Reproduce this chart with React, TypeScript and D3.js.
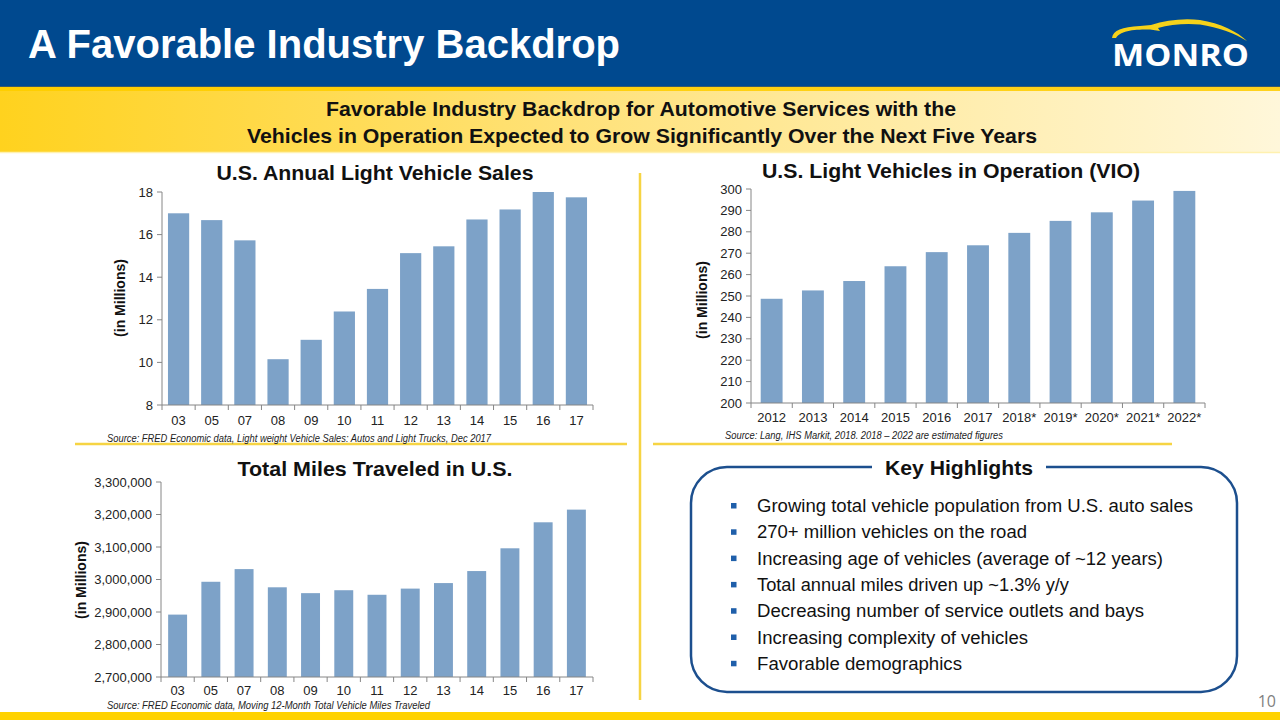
import React from "react";
import * as d3 from "d3";

const SALES_YEARS = ["03", "05", "07", "08", "09", "10", "11", "12", "13", "14", "15", "16", "17"];
const SALES_VALUES = [17.0, 16.68, 15.73, 10.15, 11.06, 12.39, 13.45, 15.13, 15.45, 16.71, 17.18, 18.0, 17.75];
const SALES_TICKS = [8, 10, 12, 14, 16, 18];

const VIO_YEARS = ["2012", "2013", "2014", "2015", "2016", "2017", "2018*", "2019*", "2020*", "2021*", "2022*"];
const VIO_VALUES = [248.7, 252.6, 257.0, 263.9, 270.5, 273.7, 279.5, 285.1, 289.1, 294.6, 299.1];
const VIO_TICKS = [200, 210, 220, 230, 240, 250, 260, 270, 280, 290, 300];

const MILES_YEARS = ["03", "05", "07", "08", "09", "10", "11", "12", "13", "14", "15", "16", "17"];
const MILES_VALUES = [2892000, 2993000, 3032000, 2976000, 2958000, 2967000, 2953000, 2972000, 2989000, 3026000, 3096000, 3176000, 3215000];
const MILES_TICKS = [2700000, 2800000, 2900000, 3000000, 3100000, 3200000, 3300000];

const HIGHLIGHTS = [
  "Growing total vehicle population from U.S. auto sales",
  "270+ million vehicles on the road",
  "Increasing age of vehicles (average of ~12 years)",
  "Total annual miles driven up ~1.3% y/y",
  "Decreasing number of service outlets and bays",
  "Increasing complexity of vehicles",
  "Favorable demographics",
];
const HIGHLIGHT_WIDTHS = [436, 270, 406, 312, 387, 271, 205];

const FONT = "'Liberation Sans', Arial, Helvetica, sans-serif";
const BAR = "#7DA2C8";
const AXIS = "#868686";
const YELLOW_LINE = "#F6D443";

type ChartProps = {
  categories: string[];
  values: number[];
  ticks: number[];
  domain: [number, number];
  xRange: [number, number];
  yRange: [number, number];
  padding: number;
  fmt: (v: number) => string;
  xLabelY: number;
};

function BarChart(p: ChartProps) {
  const x = d3.scaleBand<string>().domain(p.categories).range(p.xRange).paddingInner(p.padding).paddingOuter(p.padding / 2);
  const y = d3.scaleLinear().domain(p.domain).range(p.yRange);
  const step = x.step();
  const [x0, x1] = p.xRange;
  const yb = p.yRange[0];
  return (
    <g fontFamily={FONT}>
      {p.categories.map((c, i) => (
        <rect key={c} x={x(c)} y={y(p.values[i])} width={x.bandwidth()} height={yb - y(p.values[i])} fill={BAR} />
      ))}
      <line x1={x0} x2={x0} y1={p.yRange[1]} y2={yb} stroke={AXIS} />
      <line x1={x0} x2={x1} y1={yb} y2={yb} stroke={AXIS} />
      {p.ticks.map((t) => (
        <g key={t}>
          <line x1={x0 - 5} x2={x0} y1={y(t)} y2={y(t)} stroke={AXIS} />
          <text x={x0 - 9} y={y(t)} dy="0.35em" textAnchor="end" fontSize={13} fill="#222">
            {p.fmt(t)}
          </text>
        </g>
      ))}
      {d3.range(p.categories.length + 1).map((i) => (
        <line key={i} x1={x0 + i * step} x2={x0 + i * step} y1={yb} y2={yb + 5} stroke={AXIS} />
      ))}
      {p.categories.map((c) => (
        <text key={c} x={(x(c) as number) + x.bandwidth() / 2} y={p.xLabelY} textAnchor="middle" fontSize={13} fill="#222">
          {c}
        </text>
      ))}
    </g>
  );
}

export default function App() {
  const commaFmt = d3.format(",");
  return (
    <svg width={1280} height={720} style={{ position: "absolute", left: 0, top: 0 }} fontFamily={FONT}>
      <defs>
        <linearGradient id="banner" x1="0" x2="1" y1="0" y2="0">
          <stop offset="0" stopColor="#FFD21E" />
          <stop offset="0.45" stopColor="#FFE27A" />
          <stop offset="1" stopColor="#FFF7DA" />
        </linearGradient>
        <linearGradient id="bannerTop" x1="0" x2="1" y1="0" y2="0">
          <stop offset="0" stopColor="#FFCE00" />
          <stop offset="1" stopColor="#FFD21E" />
        </linearGradient>
      </defs>
      <rect x={0} y={0} width={1280} height={720} fill="#ffffff" />
      {/* header */}
      <rect x={0} y={0} width={1280} height={86} fill="#00498F" />
      <text x={28} y={58} fill="#ffffff" fontWeight="bold" fontSize={41} textLength={592} lengthAdjust="spacingAndGlyphs">
        A Favorable Industry Backdrop
      </text>
      {/* logo */}
      <path
        d="M1112,38 C1113,30 1122,27 1140,26 L1151,25 C1166,20 1184,18 1200,20 C1220,23 1238,32 1247,41 C1236,34 1218,27 1200,24.5 C1186,23 1170,24.5 1158,28 L1160,31 L1150,29.5 C1136,29.5 1121,30 1116,38 Z"
        fill="#F5D21A"
      />
      <text x={1112} y={66} fill="#ffffff" fontWeight="bold" fontSize={31} fontFamily="'Open Sans', Lato, sans-serif" textLength={137} lengthAdjust="spacingAndGlyphs">
        MONRO
      </text>
      {/* banner */}
      <rect x={0} y={86} width={1280} height={66} fill="url(#banner)" />
      <rect x={0} y={86} width={1280} height={5} fill="url(#bannerTop)" />
      <line x1={0} x2={1280} y1={86.5} y2={86.5} stroke="#3a5a6a" strokeWidth={1} />
      <line x1={0} x2={1280} y1={152.5} y2={152.5} stroke="#FFF1B0" strokeWidth={1.5} />
      <text x={641} y={116} textAnchor="middle" fontWeight="bold" fontSize={21} fill="#111" textLength={630} lengthAdjust="spacingAndGlyphs">
        Favorable Industry Backdrop for Automotive Services with the
      </text>
      <text x={642} y={143} textAnchor="middle" fontWeight="bold" fontSize={21} fill="#111" textLength={790} lengthAdjust="spacingAndGlyphs">
        Vehicles in Operation Expected to Grow Significantly Over the Next Five Years
      </text>

      {/* separators */}
      <line x1={640} x2={640} y1={173} y2={700} stroke={YELLOW_LINE} strokeWidth={2.5} />
      <line x1={75} x2={627} y1={444} y2={444} stroke={YELLOW_LINE} strokeWidth={2.5} />
      <line x1={653} x2={1172} y1={444} y2={444} stroke={YELLOW_LINE} strokeWidth={2.5} />
      <rect x={0} y={712} width={1280} height={8} fill="#FFD200" />

      {/* chart 1 */}
      <text x={375} y={180} textAnchor="middle" fontWeight="bold" fontSize={21} fill="#111" textLength={317} lengthAdjust="spacingAndGlyphs">
        U.S. Annual Light Vehicle Sales
      </text>
      <text transform="translate(125,298) rotate(-90)" textAnchor="middle" fontWeight="bold" fontSize={14} fill="#111">
        (in Millions)
      </text>
      <BarChart
        categories={SALES_YEARS}
        values={SALES_VALUES}
        ticks={SALES_TICKS}
        domain={[8, 18]}
        xRange={[162, 593]}
        yRange={[405, 192]}
        padding={0.36}
        fmt={(v) => String(v)}
        xLabelY={425}
      />
      <text x={107} y={442} fontStyle="italic" fontSize={10} fill="#222" textLength={384} lengthAdjust="spacingAndGlyphs">
        Source: FRED Economic data, Light weight Vehicle Sales: Autos and Light Trucks, Dec 2017
      </text>

      {/* chart 2 */}
      <text x={951} y={178} textAnchor="middle" fontWeight="bold" fontSize={21} fill="#111" textLength={378} lengthAdjust="spacingAndGlyphs">
        U.S. Light Vehicles in Operation (VIO)
      </text>
      <text transform="translate(707,300) rotate(-90)" textAnchor="middle" fontWeight="bold" fontSize={14} fill="#111">
        (in Millions)
      </text>
      <BarChart
        categories={VIO_YEARS}
        values={VIO_VALUES}
        ticks={VIO_TICKS}
        domain={[200, 300]}
        xRange={[751, 1205]}
        yRange={[403, 189]}
        padding={0.47}
        fmt={(v) => String(v)}
        xLabelY={422}
      />
      <text x={725} y={439} fontStyle="italic" fontSize={10} fill="#222" textLength={278} lengthAdjust="spacingAndGlyphs">
        Source: Lang, IHS Markit, 2018. 2018 – 2022 are estimated figures
      </text>

      {/* chart 3 */}
      <text x={375} y={476} textAnchor="middle" fontWeight="bold" fontSize={21} fill="#111" textLength={275} lengthAdjust="spacingAndGlyphs">
        Total Miles Traveled in U.S.
      </text>
      <text transform="translate(86,580) rotate(-90)" textAnchor="middle" fontWeight="bold" fontSize={14} fill="#111">
        (in Millions)
      </text>
      <BarChart
        categories={MILES_YEARS}
        values={MILES_VALUES}
        ticks={MILES_TICKS}
        domain={[2700000, 3300000]}
        xRange={[161, 593]}
        yRange={[677, 482]}
        padding={0.43}
        fmt={(v) => commaFmt(v)}
        xLabelY={695}
      />
      <text x={107} y={709} fontStyle="italic" fontSize={10} fill="#222" textLength={323} lengthAdjust="spacingAndGlyphs">
        Source: FRED Economic data, Moving 12-Month Total Vehicle Miles Traveled
      </text>

      {/* key highlights */}
      <rect x={691} y={467} width={546} height={225} rx={36} ry={36} fill="none" stroke="#1C4F8E" strokeWidth={2.5} />
      <rect x={872} y={455} width={174} height={24} fill="#ffffff" />
      <text x={959} y={475} textAnchor="middle" fontWeight="bold" fontSize={20.5} fill="#111" textLength={148} lengthAdjust="spacingAndGlyphs">
        Key Highlights
      </text>
      {HIGHLIGHTS.map((h, i) => {
        const cy = 506 + i * 26.3;
        return (
          <g key={h}>
            <rect x={731} y={cy - 3} width={5.5} height={5.5} fill="#1F5FAA" />
            <text x={757} y={cy + 6} fontSize={17.5} fill="#111" textLength={HIGHLIGHT_WIDTHS[i]} lengthAdjust="spacingAndGlyphs">
              {h}
            </text>
          </g>
        );
      })}
      <text x={1276} y={707} textAnchor="end" fontSize={16} fill="#7f7f7f" fontFamily="'Open Sans', sans-serif">
        10
      </text>
    </svg>
  );
}
